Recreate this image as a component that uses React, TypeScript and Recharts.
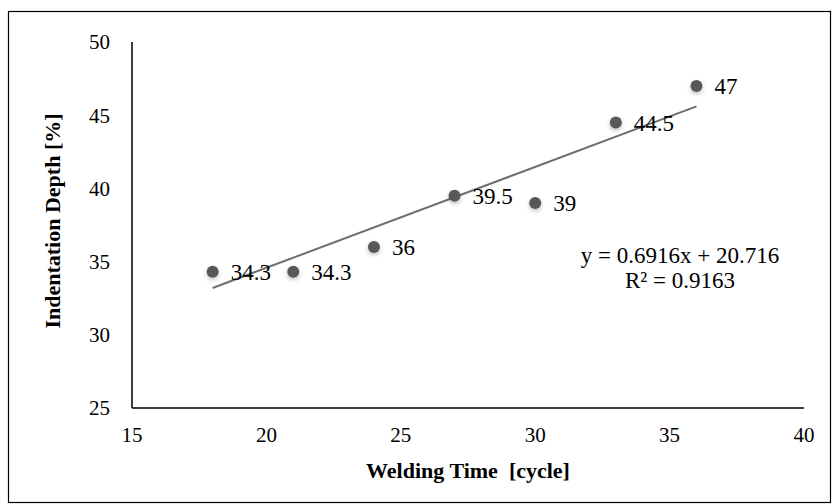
import React from 'react';
import { ScatterChart, Scatter, XAxis, YAxis } from 'recharts';

const weldingTime = [18, 21, 24, 27, 30, 33, 36];
const depth = [34.3, 34.3, 36, 39.5, 39, 44.5, 47];
const trendX = [18, 36];
const trendY = [33.2, 45.6];
const xTicks = [15, 20, 25, 30, 35, 40];
const yTicks = [25, 30, 35, 40, 45, 50];

const points = weldingTime.map((x, i) => ({ x, y: depth[i] }));
const trend = trendX.map((x, i) => ({ x, y: trendY[i] }));

const FONT = '"Liberation Serif", "Times New Roman", serif';

const PointMark = (props: any) => {
  const { cx, cy, payload } = props;
  return (
    <g>
      <circle cx={cx} cy={cy} r={6} fill="#595959" filter="url(#ptShadow)" />
      <text x={cx + 18} y={cy + 8} fontSize={23} fill="#000" fontFamily={FONT}>
        {payload.y}
      </text>
    </g>
  );
};

export default function App() {
  return (
    <div style={{ position: 'absolute', left: 0, top: 0, width: 832, height: 504, background: '#fff' }}>
      <svg width={832} height={504} style={{ position: 'absolute', left: 0, top: 0 }}>
        <rect x={8.5} y={11.5} width={822} height={491} fill="none" stroke="#000" strokeWidth={1.2} />
      </svg>
      <div style={{ position: 'absolute', left: 0, top: 0 }}>
        <ScatterChart width={832} height={504} margin={{ top: 42, right: 28, bottom: 66, left: 72 }}>
          <defs>
            <filter id="ptShadow" x="-100%" y="-100%" width="300%" height="300%">
              <feDropShadow dx={0} dy={2} stdDeviation={2} floodColor="#000" floodOpacity={0.25} />
            </filter>
          </defs>
          <XAxis
            type="number"
            dataKey="x"
            domain={[15, 40]}
            ticks={xTicks}
            height={30}
            tickLine={false}
            axisLine={{ stroke: '#000', strokeWidth: 1.5 }}
            tick={{ fill: '#000', fontSize: 21, fontFamily: FONT }}
            tickMargin={13}
          />
          <YAxis
            type="number"
            dataKey="y"
            domain={[25, 50]}
            ticks={yTicks}
            width={60}
            tickLine={false}
            axisLine={{ stroke: '#000', strokeWidth: 1.5 }}
            tick={{ fill: '#000', fontSize: 21, fontFamily: FONT }}
            tickMargin={16}
          />
          <Scatter
            data={trend}
            line={{ stroke: '#6e6e6e', strokeWidth: 2 }}
            shape={() => null}
            isAnimationActive={false}
          />
          <Scatter data={points} shape={PointMark} isAnimationActive={false} />
          <text x={680} y={263} textAnchor="middle" fontSize={23} fontFamily={FONT} fill="#000">
            y = 0.6916x + 20.716
          </text>
          <text x={680} y={288} textAnchor="middle" fontSize={23} fontFamily={FONT} fill="#000">
            R² = 0.9163
          </text>
          <text
            x={468}
            y={478}
            textAnchor="middle"
            fontSize={22}
            fontWeight="bold"
            fontFamily={FONT}
            fill="#000"
          >
            {'Welding Time \u00a0[cycle]'}
          </text>
          <text
            x={60}
            y={221}
            textAnchor="middle"
            fontSize={22}
            fontWeight="bold"
            fontFamily={FONT}
            fill="#000"
            transform="rotate(-90 60 221)"
          >
            Indentation Depth [%]
          </text>
        </ScatterChart>
      </div>
    </div>
  );
}
